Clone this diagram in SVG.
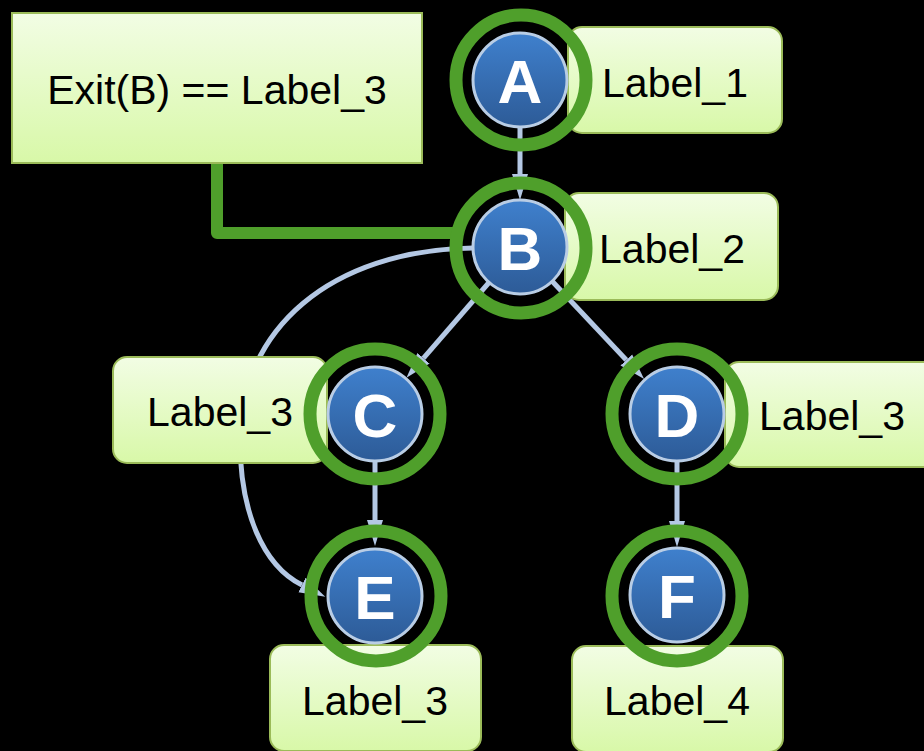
<svg xmlns="http://www.w3.org/2000/svg" width="924" height="751" viewBox="0 0 924 751">
<defs>
<linearGradient id="gBox" x1="0" y1="0" x2="0" y2="1">
<stop offset="0" stop-color="#f2fde4"/>
<stop offset="1" stop-color="#d8f8a8"/>
</linearGradient>
<linearGradient id="gBlue" x1="0" y1="0" x2="0" y2="1">
<stop offset="0" stop-color="#3f80cd"/>
<stop offset="1" stop-color="#2d5b97"/>
</linearGradient>
<marker id="arr" markerUnits="userSpaceOnUse" markerWidth="27" markerHeight="18" refX="0" refY="9" orient="auto">
<path d="M0,1 L26,9 L0,17 z" fill="#b4c8e4"/>
</marker>
<style>
.edge{fill:none;stroke:#b4c8e4;stroke-width:5}
.cond{fill:none;stroke:#4f9f2b;stroke-width:12;stroke-linejoin:round}
.box{fill:url(#gBox);stroke:#9bbb59;stroke-width:2}
.disc{fill:url(#gBlue);stroke:#b9cde5;stroke-width:3}
.ring{fill:none;stroke:#4f9f2b;stroke-width:13}
.lab{font-family:"Liberation Sans",Arial,sans-serif;font-size:41px;fill:#000;text-anchor:middle}
.let{font-family:"Liberation Sans",Arial,sans-serif;font-size:62px;font-weight:bold;fill:#fff;text-anchor:middle}
</style>
</defs>
<rect x="0" y="0" width="924" height="751" fill="#000"/>
<g id="connectors">
<path class="edge" d="M520,128 L520,174" marker-end="url(#arr)"/>
<path class="edge" d="M489,282.5 L423.5,358.2" marker-end="url(#arr)"/>
<path class="edge" d="M552.2,281.2 L626.3,360" marker-end="url(#arr)"/>
<path class="edge" d="M375,462 L375,520" marker-end="url(#arr)"/>
<path class="edge" d="M677,462 L677,521" marker-end="url(#arr)"/>
<path class="edge" d="M473,248 C330,250 240,330 240,440 C240,510 262,565 302,585" marker-end="url(#arr)"/>
<path class="cond" d="M217,163 L217,233 L455,233"/>
</g>
<g id="exit">
<rect class="box" x="12" y="13" width="410" height="150"/>
<text class="lab" x="217" y="104">Exit(B) == Label_3</text>
</g>
<g id="nodeA">
<rect class="box" x="568" y="27" width="214" height="106" rx="14"/>
<text class="lab" x="675" y="97">Label_1</text>
<circle class="disc" cx="520" cy="80" r="47"/>
<text class="let" x="520" y="103">A</text>
<circle class="ring" cx="521" cy="80" r="65"/>
</g>
<g id="nodeB">
<rect class="box" x="565" y="193" width="213" height="107" rx="14"/>
<text class="lab" x="672" y="263">Label_2</text>
<circle class="disc" cx="520" cy="247" r="47"/>
<text class="let" x="520" y="270">B</text>
<circle class="ring" cx="521" cy="248" r="65"/>
</g>
<g id="nodeC">
<rect class="box" x="113" y="357" width="214" height="106" rx="14"/>
<text class="lab" x="220" y="426">Label_3</text>
<circle class="disc" cx="375" cy="414" r="47"/>
<text class="let" x="375" y="437">C</text>
<circle class="ring" cx="375" cy="414" r="65"/>
</g>
<g id="nodeD">
<rect class="box" x="725" y="362" width="214" height="105" rx="14"/>
<text class="lab" x="832" y="430">Label_3</text>
<circle class="disc" cx="677" cy="414" r="47"/>
<text class="let" x="677" y="437">D</text>
<circle class="ring" cx="677" cy="414" r="65"/>
</g>
<g id="nodeE">
<rect class="box" x="270" y="645" width="211" height="106" rx="14"/>
<text class="lab" x="375" y="715">Label_3</text>
<circle class="disc" cx="375" cy="596" r="47"/>
<text class="let" x="375" y="619">E</text>
<circle class="ring" cx="376" cy="596" r="65"/>
</g>
<g id="nodeF">
<rect class="box" x="572" y="646" width="211" height="106" rx="14"/>
<text class="lab" x="677" y="715">Label_4</text>
<circle class="disc" cx="677" cy="595" r="47"/>
<text class="let" x="677" y="618">F</text>
<circle class="ring" cx="677" cy="596" r="65"/>
</g>
</svg>
